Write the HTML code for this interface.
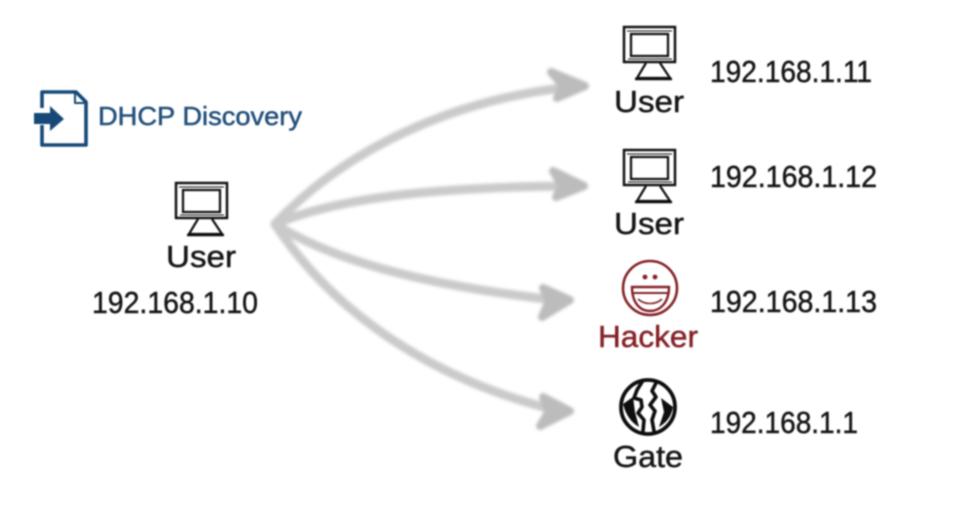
<!DOCTYPE html>
<html>
<head>
<meta charset="utf-8">
<style>
html,body{margin:0;padding:0;background:#fff;width:959px;height:513px;overflow:hidden}
svg{display:block}
text{font-family:"Liberation Sans",sans-serif}
</style>
</head>
<body>
<svg width="959" height="513" viewBox="0 0 959 513" xmlns="http://www.w3.org/2000/svg">
<defs>
<filter id="b" x="-5%" y="-5%" width="110%" height="110%"><feGaussianBlur stdDeviation="0.8"/></filter>
<filter id="b2" x="-5%" y="-5%" width="110%" height="110%"><feGaussianBlur stdDeviation="1.6"/></filter>
<g id="mon" fill="none" stroke="#111">
<rect x="176" y="183" width="51" height="35" stroke-width="2.4"/>
<rect x="183" y="190" width="37" height="22" stroke-width="2.2"/>
<path d="M179 187H224M180 215H224" stroke-width="1"/>
<path d="M198 219L189 234H222L212 219" stroke-width="2.2"/>
<path d="M187 235H224" stroke-width="2.4"/>
</g>
</defs>

<g filter="url(#b2)" fill="none" stroke="#cacaca" stroke-width="9" stroke-linecap="round" stroke-linejoin="round">
<path d="M275 224C345 150 450 100 570 87"/>
<path d="M275 224C345 195 450 187 570 186"/>
<path d="M275 224C340 265 440 287 555 300"/>
<path d="M275 224C335 315 435 380 555 410"/>
<path d="M551 72L585 86L557 98L563 86Z" fill="#bcbcbc" stroke="#bcbcbc" stroke-width="8"/>
<path d="M553 171L584 186L556 197L562 186Z" fill="#bcbcbc" stroke="#bcbcbc" stroke-width="8"/>
<path d="M543 288L570 300L542 317L549 301Z" fill="#bcbcbc" stroke="#bcbcbc" stroke-width="8"/>
<path d="M543 397L570 411L540 426L549 411Z" fill="#bcbcbc" stroke="#bcbcbc" stroke-width="8"/>
</g>

<g filter="url(#b)">
<!-- DHCP icon -->
<g fill="none" stroke="#174a78" stroke-width="3.6" stroke-linejoin="round">
<path d="M42 108V92H76L86 102V145H42V125"/>
<path d="M75 93V103H85" stroke-width="2"/>
</g>
<path d="M34 113H50V106L64 119L50 131V124H34Z" fill="#174a78"/>
<text x="98" y="125" font-size="26" fill="#24507c" stroke="#24507c" stroke-width=".5" textLength="204" lengthAdjust="spacingAndGlyphs">DHCP Discovery</text>

<!-- Monitors -->
<use href="#mon"/>
<use href="#mon" x="448" y="-156"/>
<use href="#mon" x="448" y="-33"/>

<!-- Hacker face -->
<g fill="none" stroke="#852328" stroke-width="2.6">
<circle cx="650" cy="288" r="27"/>
<path d="M632 287H669C669 303 660 311 650 311C640 311 632 303 632 287Z" stroke-width="2.4"/>
<path d="M633 293H668" stroke-width="2"/>
<path d="M638 299C644 305 656 305 662 299" stroke-width="1.6"/>
</g>
<circle cx="645" cy="277" r="2.4" fill="#852328"/>
<circle cx="655" cy="277" r="2.4" fill="#852328"/>

<!-- Globe -->
<circle cx="648" cy="407" r="27" fill="none" stroke="#0c0c0c" stroke-width="3.8"/>
<g fill="none" stroke="#0c0c0c" stroke-width="3.6" stroke-linejoin="round" stroke-linecap="round">
<path d="M642 382L637 390L634 398L641 400L642 407L638 413L644 420L643 431"/>
<path d="M656 383L652 391L656 397L650 405L655 411L652 420L654 431"/>
</g>
<path d="M623 404L633 397L635 412L639 427Q627 420 623 404Z" fill="#0c0c0c"/>
<path d="M661 398L673 407Q671 420 659 427L664 412Z" fill="#0c0c0c"/>

<!-- Labels -->
<g fill="#141414" stroke="#141414" stroke-width=".5" font-size="31">
<text x="166" y="267" textLength="70" lengthAdjust="spacingAndGlyphs">User</text>
<text x="614" y="112" textLength="70" lengthAdjust="spacingAndGlyphs">User</text>
<text x="614" y="234" textLength="70" lengthAdjust="spacingAndGlyphs">User</text>
<text x="613" y="467" textLength="70" lengthAdjust="spacingAndGlyphs">Gate</text>
<text x="92" y="313" textLength="166" lengthAdjust="spacingAndGlyphs">192.168.1.10</text>
<text x="710" y="82" textLength="162" lengthAdjust="spacingAndGlyphs">192.168.1.11</text>
<text x="710" y="187" textLength="167" lengthAdjust="spacingAndGlyphs">192.168.1.12</text>
<text x="710" y="312" textLength="167" lengthAdjust="spacingAndGlyphs">192.168.1.13</text>
<text x="710" y="433" textLength="148" lengthAdjust="spacingAndGlyphs">192.168.1.1</text>
</g>
<text x="598" y="347" font-size="31" fill="#852328" stroke="#852328" stroke-width=".5" textLength="100" lengthAdjust="spacingAndGlyphs">Hacker</text>
</g>
</svg>
</body>
</html>
